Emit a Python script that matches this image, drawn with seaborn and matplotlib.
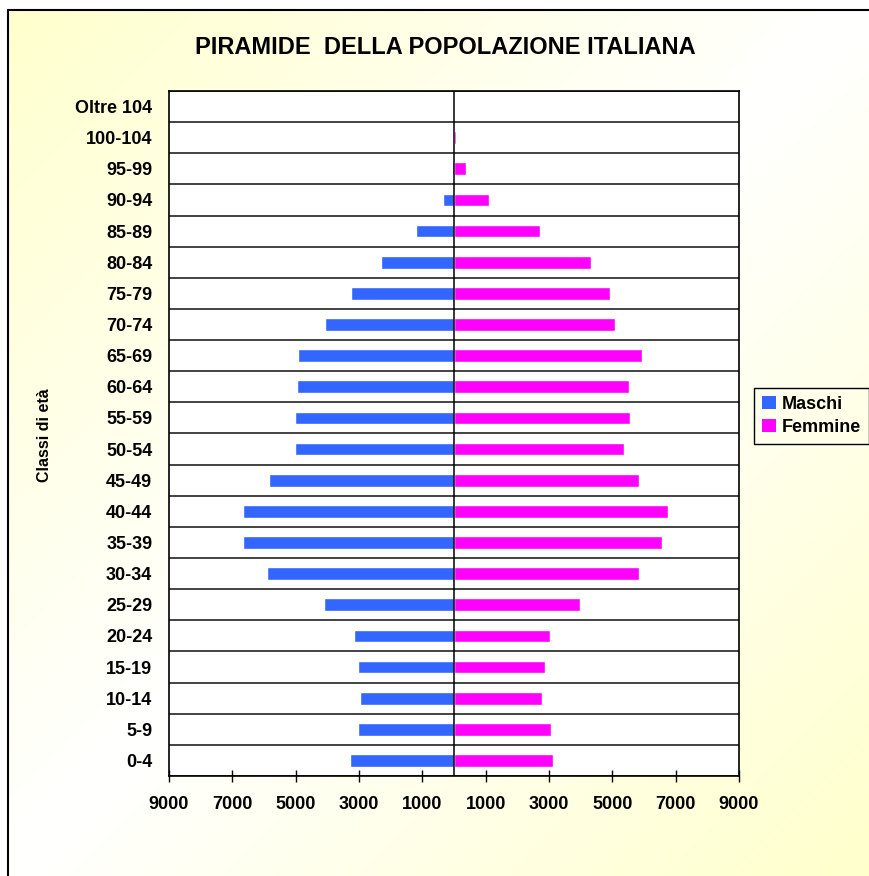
import numpy as np
import pandas as pd
import matplotlib
matplotlib.use('Agg')
import matplotlib.pyplot as plt
import seaborn as sns
from matplotlib.patches import Patch
from matplotlib.lines import Line2D
from matplotlib.ticker import FuncFormatter, FixedLocator

# ── Data ──────────────────────────────────────────────────────────────────────
classi = ['Oltre 104', '100-104', '95-99', '90-94', '85-89', '80-84', '75-79',
          '70-74', '65-69', '60-64', '55-59', '50-54', '45-49', '40-44',
          '35-39', '30-34', '25-29', '20-24', '15-19', '10-14', '5-9', '0-4']
maschi = [0, 10, 70, 360, 1210, 2320, 3260, 4080, 4930, 4970, 5030, 5030,
          5830, 6670, 6670, 5890, 4110, 3160, 3040, 2970, 3040, 3290]
femmine = [0, 60, 370, 1090, 2710, 4320, 4920, 5080, 5930, 5520, 5550, 5360,
           5840, 6750, 6560, 5840, 3970, 3020, 2870, 2770, 3060, 3120]
x_ticks = [-9000, -7000, -5000, -3000, -1000, 1000, 3000, 5000, 7000, 9000]

BLUE = '#3366FF'
MAGENTA = '#FF00FF'

df = pd.DataFrame({'classe': classi, 'maschi': maschi, 'femmine': femmine})
df['maschi_neg'] = -df['maschi']

sns.set_theme(style='white')
plt.rcParams['font.family'] = ['Liberation Sans', 'DejaVu Sans']
plt.rcParams.update({'text.color': 'black', 'axes.labelcolor': 'black',
                     'xtick.color': 'black', 'ytick.color': 'black'})

fig = plt.figure(figsize=(8.7, 8.76), dpi=100)

# ── Background gradient (yellow at top-left & bottom-right) ───────────────────
bg = fig.add_axes([0, 0, 1, 1], zorder=-10)
gx, gy = np.meshgrid(np.linspace(0, 1, 300), np.linspace(0, 1, 300))
t = np.clip(np.abs(gx + gy - 1), 0, 1)
white = np.array([1.0, 1.0, 1.0])
yellow = np.array([1.0, 1.0, 0.80])
img = white[None, None, :] * (1 - t[..., None]) + yellow[None, None, :] * t[..., None]
bg.imshow(img, extent=[0, 1, 0, 1], aspect='auto', origin='upper')
bg.axis('off')
# area outside the frame is plain white
bg.axvspan(0, 8 / 870, color='white', zorder=2)
bg.axhspan(1 - 10 / 876, 1, color='white', zorder=2)
bg.set_xlim(0, 1); bg.set_ylim(0, 1)
fig.add_artist(Line2D([8 / 870, 8 / 870], [0, 1 - 10 / 876], color='black', lw=1.5))
fig.add_artist(Line2D([8 / 870, 1], [1 - 10 / 876, 1 - 10 / 876], color='black', lw=1.5))

# ── Pyramid ───────────────────────────────────────────────────────────────────
ax = fig.add_axes([169 / 870, 1 - 776 / 876, 570 / 870, 685 / 876])
ax.set_facecolor('white')
sns.barplot(data=df, x='maschi_neg', y='classe', color=BLUE, width=0.41,
            saturation=1, ax=ax, orient='h', zorder=3)
sns.barplot(data=df, x='femmine', y='classe', color=MAGENTA, width=0.41,
            saturation=1, ax=ax, orient='h', zorder=3)

ax.set_xlim(-9000, 9000)
ax.set_ylim(len(classi) - 0.5, -0.5)
ax.axvline(0, color='black', lw=1.1, zorder=4)

ax.xaxis.set_major_locator(FixedLocator(x_ticks))
ax.xaxis.set_major_formatter(FuncFormatter(lambda v, p: f'{abs(int(v))}'))
ax.tick_params(axis='x', direction='inout', length=9, width=1, color='black',
               bottom=True, pad=10, labelsize=13, labelcolor='black')
for lab in ax.get_xticklabels():
    lab.set_fontweight('bold')

ax.set_yticks(range(len(classi)))
ax.set_yticklabels(classi, fontweight='bold', fontsize=13)
ax.tick_params(axis='y', length=0, pad=12, labelcolor='black')
ax.set_yticks(np.arange(-0.5, len(classi), 1.0), minor=True)
ax.grid(which='minor', axis='y', color='#222222', lw=1.2, zorder=1)
ax.tick_params(axis='y', which='minor', length=0)
ax.set_xlabel('')
ax.set_ylabel('')
for s in ax.spines.values():
    s.set_visible(True)
    s.set_color('black')
    s.set_linewidth(1.2)

# ── Texts & legend ────────────────────────────────────────────────────────────
fig.text(445 / 870, 1 - 47 / 876, 'PIRAMIDE  DELLA POPOLAZIONE ITALIANA',
         ha='center', va='center', fontsize=17, fontweight='bold')
fig.text(45 / 870, 1 - 435 / 876, 'Classi di età', rotation=90,
         ha='center', va='center', fontsize=11.5, fontweight='bold')

handles = [Patch(facecolor=BLUE, edgecolor='none', label='Maschi'),
           Patch(facecolor=MAGENTA, edgecolor='none', label='Femmine')]
leg = fig.legend(handles=handles, loc='upper left',
                 bbox_to_anchor=(754 / 870, 1 - 388 / 876),
                 frameon=True, fancybox=False, framealpha=1,
                 facecolor='none', edgecolor='black',
                 handlelength=0.75, handleheight=0.75,
                 handletextpad=0.35, borderpad=0.45, labelspacing=0.3,
                 borderaxespad=0, prop={'weight': 'bold', 'size': 13})
leg.get_frame().set_linewidth(1.0)

plt.savefig('out.png', dpi=100)
plt.close()
